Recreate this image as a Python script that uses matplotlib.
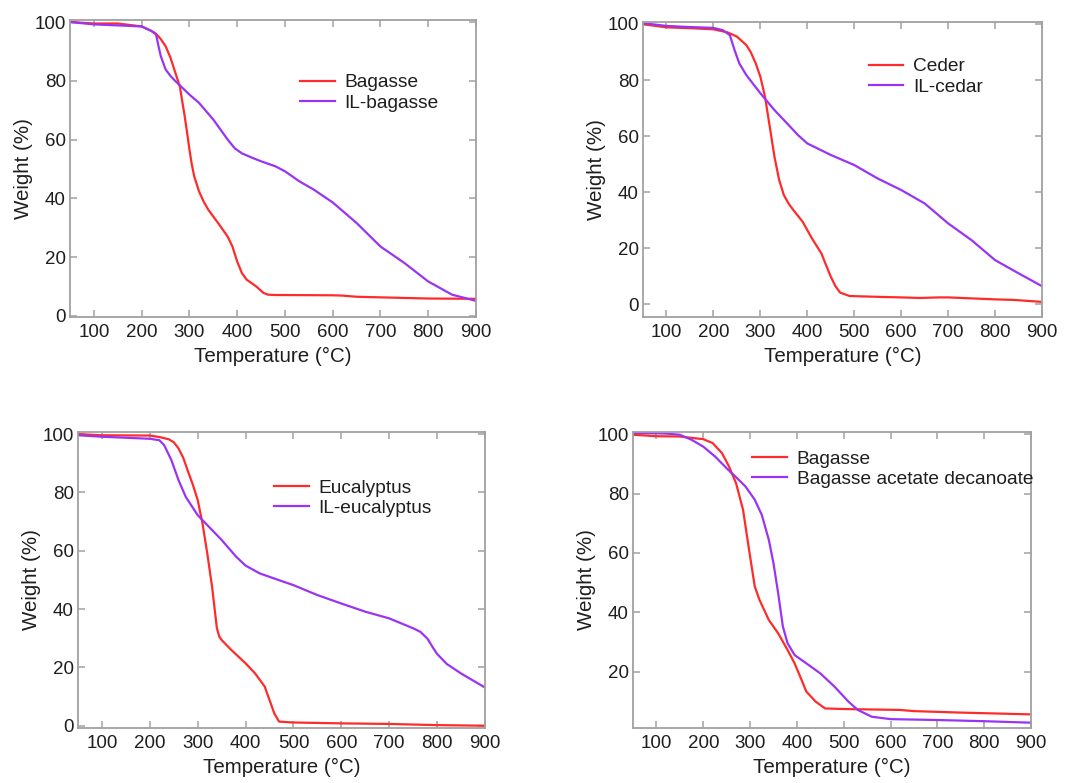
import matplotlib
matplotlib.use("Agg")
import matplotlib.pyplot as plt
import numpy as np

plt.rcParams['font.family'] = ['Liberation Sans', 'DejaVu Sans']

# ---- data (temperature in C, weight in %) ----
# panel 1: bagasse vs IL-bagasse
t_bag = [50, 100, 150, 200, 220, 230, 240, 250, 260, 270, 280, 290, 295, 300, 305, 310, 320, 330,
         340, 360, 380, 390, 400, 410, 420, 440, 455, 465, 480, 600, 620, 650, 700, 800, 900]
w_bag = [100, 99.5, 99.5, 98.5, 97, 96, 94.2, 91.8, 88, 83, 78, 68, 62.5, 56.6, 51.5, 47.5, 42.4, 38.8,
         36, 31.6, 27, 23.6, 18.5, 14.5, 12.3, 10, 7.8, 7.2, 7.1, 7.0, 6.9, 6.5, 6.3, 5.9, 5.8]
t_ilbag = [50, 100, 200, 220, 230, 235, 240, 250, 260, 270, 300, 320, 350, 380, 395, 410, 430, 450,
           480, 500, 530, 560, 600, 650, 700, 750, 800, 850, 900]
w_ilbag = [100, 99.2, 98.5, 97, 95.8, 92, 88.4, 83.9, 81.7, 80, 75.3, 72.5, 66.8, 60, 57, 55.3, 53.9, 52.6,
           50.9, 49.2, 45.8, 43, 38.6, 31.6, 23.6, 18, 11.7, 7.2, 5.1]

# panel 2: cedar vs IL-cedar
t_ced = [50, 100, 150, 200, 230, 250, 270, 280, 290, 300, 310, 320, 330, 340, 350, 360, 370, 390,
         410, 430, 440, 450, 460, 470, 490, 550, 600, 640, 680, 700, 800, 840, 900]
w_ced = [99.9, 98.8, 98.5, 98.1, 97, 95.5, 92.5, 89.8, 86, 81.2, 74, 63.4, 52.7, 44.4, 39, 36, 33.7, 29.5,
         23.5, 18.2, 14, 9.9, 6.5, 4.2, 3.0, 2.7, 2.5, 2.3, 2.5, 2.5, 1.8, 1.6, 0.9]
t_ilced = [50, 100, 150, 200, 220, 235, 245, 255, 270, 300, 330, 360, 380, 400, 450, 500,
           550, 600, 650, 700, 750, 800, 850, 900]
w_ilced = [100.3, 99.3, 98.9, 98.6, 97.8, 96, 90.7, 86, 81.8, 75.3, 69.3, 64, 60.4, 57.4, 53.3, 49.7,
           44.9, 40.8, 36, 28.9, 22.9, 15.8, 11.1, 6.5]

# panel 3: eucalyptus vs IL-eucalyptus
t_euc = [50, 100, 200, 220, 240, 250, 260, 270, 280, 290, 300, 310, 320, 330, 340, 345, 350, 370,
         400, 420, 440, 450, 460, 470, 500, 600, 700, 800, 900]
w_euc = [100, 99.6, 99.5, 99, 98.2, 97.2, 95.1, 91.8, 87.1, 82.6, 77.4, 69.4, 59.1, 47.7, 33.5, 30.6, 29.4, 26,
         21.4, 17.9, 13.4, 8.8, 4.2, 1.4, 1.1, 0.8, 0.6, 0.2, 0]
t_ileuc = [50, 100, 200, 220, 230, 245, 260, 275, 300, 320, 350, 380, 400, 430, 470, 500,
           550, 600, 650, 700, 750, 765, 780, 790, 800, 820, 850, 900]
w_ileuc = [99.6, 99.1, 98.4, 97.9, 96.2, 91.1, 84.2, 78.5, 72.2, 68.8, 63.7, 58, 54.9, 52.2, 49.9, 48.2,
           44.8, 41.9, 39.1, 36.8, 33.4, 32.2, 29.8, 27.1, 24.6, 21.2, 17.9, 13.1]

# panel 4: bagasse vs bagasse acetate decanoate
t_bag2 = [50, 100, 150, 200, 220, 240, 255, 270, 285, 295, 300, 310, 320, 340, 360, 380, 395,
          410, 420, 440, 460, 500, 620, 650, 750, 900]
w_bag2 = [99.8, 99.3, 99.2, 98.3, 97, 93.6, 89.1, 83.5, 74.5, 64, 58.8, 48.7, 44.2, 37.4, 32.9, 27.3, 22.8,
          17.2, 13.3, 9.9, 7.6, 7.4, 7.1, 6.7, 6.2, 5.6]
t_bad = [50, 120, 150, 175, 200, 225, 250, 270, 290, 310, 325, 340, 350, 360, 370, 380,
         395, 420, 450, 480, 510, 530, 560, 600, 700, 800, 900]
w_bad = [100.4, 100.2, 99.8, 98.1, 95.8, 92.5, 88.5, 85.5, 82.4, 77.9, 72.8, 64.4, 56.5, 46.4, 35.2, 29.6,
         25.6, 22.8, 19.4, 15, 9.9, 7.1, 4.8, 4.0, 3.7, 3.3, 2.8]

RED = '#ff2b2b'
PURPLE = '#9a34f5'
GRAY = '#a0a0a0'
TXT = '#1e1e1e'

panels = [
    ([0.0652, 0.5951, 0.378, 0.3794], (t_bag, w_bag, 'Bagasse'), (t_ilbag, w_ilbag, 'IL-bagasse'),
     (-0.4, 100.7), [0, 20, 40, 60, 80, 100], (0.567, 0.818)),
    ([0.5987, 0.5951, 0.3715, 0.3768], (t_ced, w_ced, 'Ceder'), (t_ilced, w_ilced, 'IL-cedar'),
     (-4.5, 100.7), [0, 20, 40, 60, 80, 100], (0.566, 0.878)),
    ([0.0726, 0.0702, 0.379, 0.378], (t_euc, w_euc, 'Eucalyptus'), (t_ileuc, w_ileuc, 'IL-eucalyptus'),
     (-0.8, 100.7), [0, 20, 40, 60, 80, 100], (0.482, 0.841)),
    ([0.5894, 0.0702, 0.3706, 0.378], (t_bag2, w_bag2, 'Bagasse'), (t_bad, w_bad, 'Bagasse acetate decanoate'),
     (1.0, 100.7), [20, 40, 60, 80, 100], (0.30, 0.939)),
]

fig = plt.figure(figsize=(10.74, 7.83), dpi=100)

for rect, s1, s2, ylim, yticks, legpos in panels:
    ax = fig.add_axes(rect)
    ax.plot(s1[0], s1[1], color=RED, lw=1.6, label=s1[2])
    ax.plot(s2[0], s2[1], color=PURPLE, lw=1.6, label=s2[2])
    ax.set_xlim(50, 900)
    ax.set_ylim(*ylim)
    ax.set_xticks(np.arange(100, 901, 100))
    ax.set_yticks(yticks)
    for sp in ax.spines.values():
        sp.set_color(GRAY)
        sp.set_linewidth(1.3)
    ax.tick_params(direction='in', top=True, right=True, length=5, width=1.1,
                   color=GRAY, labelsize=13.5, labelcolor=TXT)
    ax.tick_params(axis='x', pad=5)
    ax.tick_params(axis='y', pad=3)
    ax.set_xlabel('Temperature (°C)', fontsize=14.8, color=TXT, labelpad=4)
    ax.set_ylabel('Weight (%)', fontsize=14.8, color=TXT, labelpad=1)
    ax.legend(loc='upper left', bbox_to_anchor=legpos, frameon=False, fontsize=13.8,
              handlelength=1.8, handletextpad=0.5, labelspacing=0.15,
              borderpad=0, borderaxespad=0, labelcolor=TXT)

fig.savefig('out.png', dpi=100)
